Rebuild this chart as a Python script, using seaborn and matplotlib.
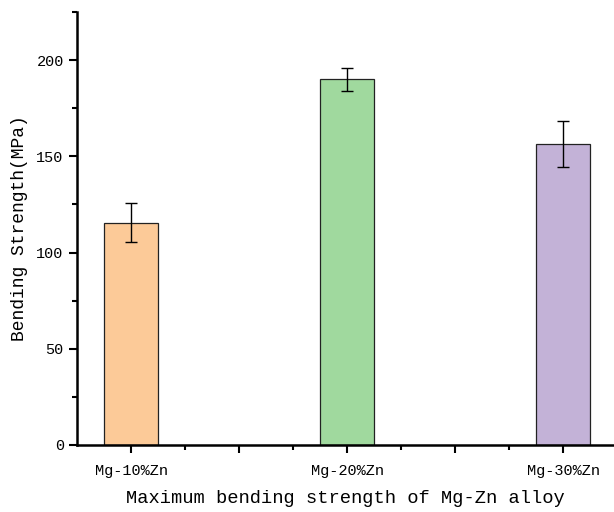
import matplotlib
matplotlib.use('Agg')
import matplotlib.pyplot as plt
from matplotlib.ticker import MultipleLocator, FixedLocator, FixedFormatter
import pandas as pd
import seaborn as sns

# data
alloys = ['Mg-10%Zn', 'Mg-20%Zn', 'Mg-30%Zn']
strength = [115.5, 190.0, 156.3]
strength_err = [10.0, 5.8, 12.0]
bar_colors = ['#FCCA98', '#A0D99E', '#C3B2D7']

df = pd.DataFrame({'alloy': alloys, 'strength': strength})

sns.set_style('ticks')
plt.rcParams['font.family'] = ['Liberation Mono', 'DejaVu Sans Mono']
plt.rcParams['text.color'] = 'black'
plt.rcParams['axes.labelcolor'] = 'black'
plt.rcParams['xtick.color'] = 'black'
plt.rcParams['ytick.color'] = 'black'
plt.rcParams['axes.edgecolor'] = 'black'

fig = plt.figure(figsize=(6.14, 5.12), dpi=100)
ax = fig.add_axes([77 / 614, 67 / 512, 537 / 614, 433 / 512])

sns.barplot(data=df, x='alloy', y='strength', hue='alloy', palette=bar_colors,
            saturation=1, width=0.25, errorbar=None, edgecolor='#222222',
            linewidth=0.9, legend=False, ax=ax)
ax.errorbar(range(len(alloys)), strength, yerr=strength_err, fmt='none',
            ecolor='black', elinewidth=1.0, capsize=4.5, capthick=1.0)

ax.set_xlim(-0.25, 2.236)
ax.set_ylim(0, 225)

ax.xaxis.set_major_locator(FixedLocator([0, 0.5, 1, 1.5, 2]))
ax.xaxis.set_major_formatter(FixedFormatter([alloys[0], '', alloys[1], '', alloys[2]]))
ax.xaxis.set_minor_locator(FixedLocator([0.25, 0.75, 1.25, 1.75]))
ax.yaxis.set_major_locator(MultipleLocator(50))
ax.yaxis.set_minor_locator(MultipleLocator(25))

ax.tick_params(which='major', length=6, width=1.5, labelsize=11, direction='out')
ax.tick_params(which='minor', length=3.5, width=1.5, direction='out')
ax.tick_params(axis='x', pad=8)

for side in ['top', 'right']:
    ax.spines[side].set_visible(False)
for side in ['left', 'bottom']:
    ax.spines[side].set_linewidth(1.8)
    ax.spines[side].set_color('black')

ax.set_xlabel('Maximum bending strength of Mg-Zn alloy', fontsize=13.5, labelpad=8)
ax.set_ylabel('Bending Strength(MPa)', fontsize=13, labelpad=6)

fig.savefig('out.png', dpi=100)
